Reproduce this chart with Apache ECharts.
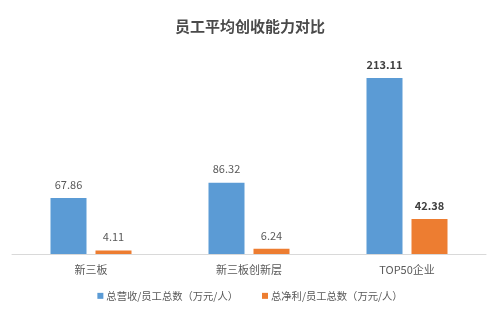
<!DOCTYPE html>
<html>
<head>
<meta charset="utf-8">
<script src="https://cdn.jsdelivr.net/npm/echarts@6/dist/echarts.min.js"></script>
<style>html,body{margin:0;padding:0;background:#fff;}#c{width:500px;height:312px;}</style>
</head>
<body>
<div id="c"></div>
<script>
const titleText = '员工平均创收能力对比';
const categories = ['新三板', '新三板创新层', 'TOP50企业'];
const seriesNames = ['总营收/员工总数（万元/人）', '总净利/员工总数（万元/人）'];
const revenuePerEmployee = [67.86, 86.32, 213.11];
const profitPerEmployee = [4.11, 6.24, 42.38];
const boldLabelIndex = 2;

const chart = echarts.init(document.getElementById('c'));
const font = '"Microsoft YaHei", "Noto Sans CJK SC", sans-serif';
function labelFmt(p){ return p.dataIndex === boldLabelIndex ? '{b|' + p.value.toFixed(2) + '}' : p.value.toFixed(2); }
const labelRich = { b: { fontWeight: 'bold', color: '#404040', fontSize: 11, fontFamily: font } };

chart.setOption({
  backgroundColor: '#ffffff',
  animation: false,
  title: {
    text: titleText, left: 'center', top: 14,
    textStyle: { fontSize: 15, fontWeight: 'bold', color: '#4a4a4a', fontFamily: font }
  },
  legend: {
    bottom: 6, left: 'center', itemWidth: 6, itemHeight: 6, itemGap: 24,
    icon: 'rect',
    textStyle: { fontSize: 10.3, color: '#595959', fontFamily: font, padding: [0,0,0,-2] },
    data: seriesNames
  },
  grid: { left: 12, right: 14, top: 47.5, bottom: 58, containLabel: false },
  xAxis: {
    type: 'category', data: categories,
    axisLine: { lineStyle: { color: '#d9d9d9' } },
    axisTick: { show: false },
    axisLabel: { fontSize: 11, color: '#595959', fontFamily: font, margin: 10 }
  },
  yAxis: { type: 'value', min: 0, max: 250, show: false, splitLine: { show: false } },
  series: [
    {
      name: seriesNames[0], type: 'bar', data: revenuePerEmployee,
      barWidth: 36, barGap: '25%',
      itemStyle: { color: '#5B9BD5' },
      label: { show: true, position: 'top', distance: 8, fontSize: 11, color: '#595959', fontFamily: font, formatter: labelFmt, rich: labelRich }
    },
    {
      name: seriesNames[1], type: 'bar', data: profitPerEmployee,
      barWidth: 36,
      itemStyle: { color: '#ED7D31' },
      label: { show: true, position: 'top', distance: 8, fontSize: 11, color: '#595959', fontFamily: font, formatter: labelFmt, rich: labelRich }
    }
  ]
});
</script>
</body>
</html>
